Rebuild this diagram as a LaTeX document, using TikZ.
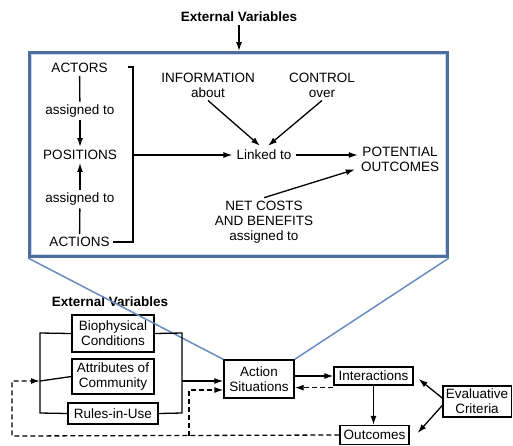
\documentclass[tikz,border=0pt]{standalone}
\usepackage{fontspec}
\setmainfont{Liberation Sans}
\usetikzlibrary{arrows.meta}

\definecolor{frameblue}{RGB}{78,110,158}
\definecolor{frameinner}{RGB}{200,215,235}
\definecolor{zoomblue}{RGB}{105,140,190}

\tikzset{
    txt/.style = {font=\fontsize{13.5pt}{15pt}\selectfont, align=center, inner sep=3pt},
    hdr/.style = {txt, font=\fontsize{13.5pt}{15pt}\selectfont\bfseries},
    box/.style = {txt, draw, line width=1.3pt},
    arr/.style = {line width=1.3pt, -{Latex[length=9pt,width=6pt]}},
    dsh/.style = {arr, dash pattern=on 5pt off 3pt},
    ln/.style  = {line width=1.3pt}
}

\begin{document}
\begin{tikzpicture}[x=1pt,y=-1pt]
        \useasboundingbox (0,0) rectangle (513,445);
        % action situation in detail
        \node (scope) [draw=frameblue, line width=3pt, minimum width=418pt, minimum height=204pt] at (238.5,154.5) {};
        \draw[frameinner, line width=1pt] (31.5,54.5) rectangle (445.5,254.5);
        \node (topvar) [hdr] at (239,17) {External Variables};
        \draw[arr] (topvar) -- (topvar |- scope.north);

        \node (actors) [txt] at (79.5,68) {ACTORS};
        \node (asgdown) [txt] at (80,111) {assigned to};
        \node (positions) [txt] at (80,155) {POSITIONS};
        \node (asgup) [txt] at (80,199) {assigned to};
        \node (actions) [txt] at (79.5,242) {ACTIONS};
        \draw[ln] (actors) -- (asgdown);
        \draw[arr] (asgdown) -- (positions);
        \draw[ln] (actions) -- (asgup);
        \draw[arr] (asgup) -- (positions);

        \coordinate (brtop) at (133,67);
        \coordinate (brmid) at (133,155);
        \coordinate (brbot) at (133,242);
        \draw[ln] ([xshift=-5pt]brtop) -- (brtop) -- (brbot) -- (actions);

        \node (linked) [txt, inner sep=4pt] at (264,155) {Linked to};
        \node (potential) [txt] at (400,159) {POTENTIAL\\OUTCOMES};
        \node (info) [txt] at (208,85) {INFORMATION\\about};
        \node (control) [txt] at (322,85) {CONTROL\\over};
        \node (netcost) [txt] at (264,222) {NET COSTS\\AND BENEFITS\\assigned to};
        \draw[arr] (brmid) -- (linked);
        \draw[arr] (linked) -- (linked -| potential.west);
        \draw[arr] (info.south) -- ([xshift=-4pt]linked.north);
        \draw[arr] (control.south) -- ([xshift=4pt]linked.north);
        \draw[arr] (netcost.north) -- ([shift={(-3pt,5pt)}]potential.south west);

        % framework
        \node (botvar) [hdr] at (110,302) {External Variables};
        \node (bio) [box, minimum width=82pt, minimum height=37pt] at (113,333.5) {Biophysical\\Conditions};
        \node (attr) [box, minimum width=82pt, minimum height=35pt] at (113,376.5) {Attributes of\\Community};
        \node (rules) [box, minimum width=90pt, minimum height=21pt] at (113,413.5) {Rules-in-Use};
        \node (action) [box, minimum width=70pt, minimum height=38pt] at (259,379) {Action\\Situations};
        \node (inter) [box, minimum width=79pt, minimum height=18pt] at (373.5,376) {Interactions};
        \node (outcomes) [box, minimum width=69pt, minimum height=19pt] at (374.5,435) {Outcomes};
        \node (crit) [box, minimum width=68pt, minimum height=31pt] at (477,401.5) {Evaluative\\Criteria};

        \draw[zoomblue, line width=1.5pt] (scope.south west) -- (action.north west);
        \draw[zoomblue, line width=1.5pt] (scope.south east) -- (action.north east);

        \coordinate (lbtop) at (40,333);
        \coordinate (lbmid) at (40,381);
        \coordinate (lbbot) at (40,413);
        \coordinate (rbtop) at (182,333);
        \coordinate (rbmid) at (182,381);
        \coordinate (rbbot) at (182,413);
        \draw[ln] (bio.west) -- (lbtop) -- (lbbot) -- (rules.west);
        \draw[ln] (attr.west) -- (lbmid);
        \draw[ln] (bio.east) -- (rbtop) -- (rbbot) -- (rules.east);
        \draw[arr] (rbmid) -- (rbmid -| action.west);

        \draw[arr] (action.east |- inter) -- (inter.west);
        \draw[dsh] ([yshift=-2pt]inter.south west) -- ([yshift=-2pt]inter.south west -| action.east);
        \draw[arr] (inter.south) -- (inter.south |- outcomes.north);
        \draw[arr] ([yshift=3.5pt]crit.west) -- ([shift={(5pt,-3pt)}]inter.east);
        \draw[arr] ([yshift=-4pt]crit.west) -- ([shift={(8pt,2pt)}]outcomes.east);

        \coordinate (loopleft) at (12,436);
        \coordinate (loopfork) at (189,436);
        \draw[dsh] (outcomes.west) -- (loopleft) |- (lbmid);
        \draw[dsh] (loopfork) |- (action.west |- 0,390);
    \end{tikzpicture}
\end{document}
